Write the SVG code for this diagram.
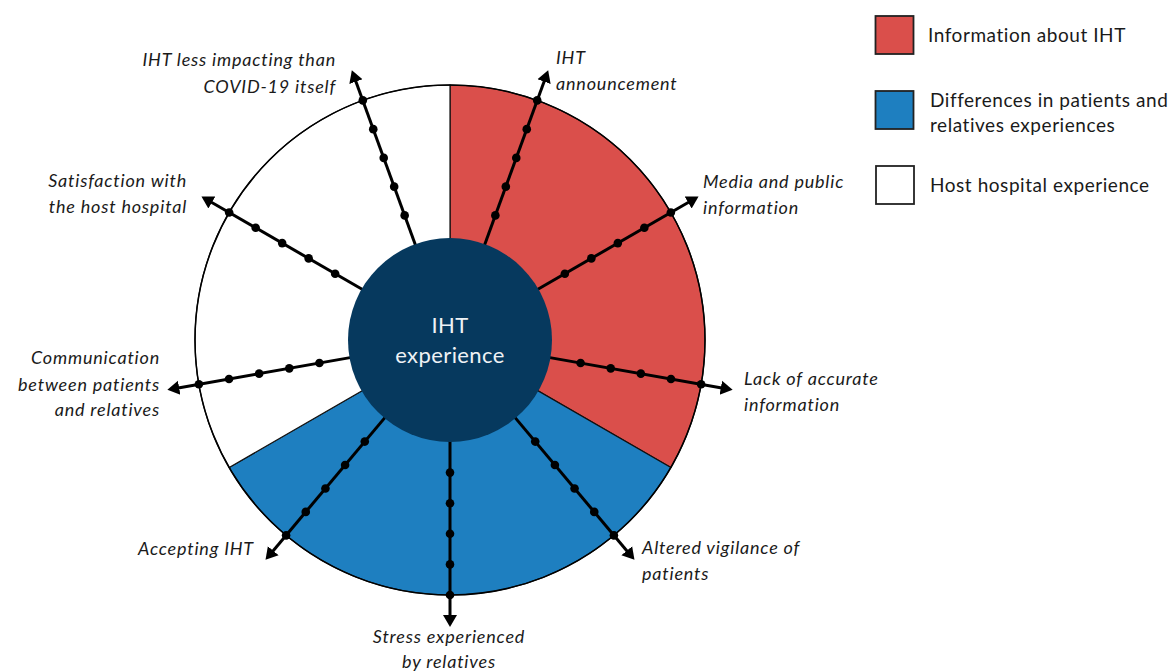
<svg xmlns="http://www.w3.org/2000/svg" width="1169" height="672" viewBox="0 0 1169 672">
<style>
.lbl{font-family:Lato,"Open Sans","Liberation Sans",sans-serif;font-style:italic;font-size:18px;letter-spacing:0.8px;fill:#1a1a1a}
.leg{font-family:Lato,"Open Sans","Liberation Sans",sans-serif;font-size:19px;letter-spacing:0.55px;fill:#1a1a1a}
.ctr{font-family:Lato,"Open Sans","Liberation Sans",sans-serif;font-size:22px;letter-spacing:0.4px;fill:#eef2f5}
.sec{stroke:#111;stroke-width:1.2}
.spoke{stroke:#000;stroke-width:3;fill:none;marker-end:url(#arrow)}
.dot{fill:#000}
.box{stroke:#222;stroke-width:1.8}
</style>
<defs>
<marker id="arrow" markerUnits="userSpaceOnUse" markerWidth="14" markerHeight="16" refX="1" refY="8" orient="auto" viewBox="0 0 14 16">
<path d="M0,1 L12,8 L0,15 z" fill="#000"/>
</marker>
</defs>
<rect width="1169" height="672" fill="#fff"/>
<g id="sectors">
<path class="sec" d="M450,340 L450,85 A255,255 0 0 1 670.84,467.5 Z" fill="#DA4F4B"/>
<path class="sec" d="M450,340 L670.84,467.5 A255,255 0 0 1 229.16,467.5 Z" fill="#1E7FC0"/>
<path class="sec" d="M450,340 L229.16,467.5 A255,255 0 0 1 450,85 Z" fill="#FFFFFF"/>
<circle cx="450" cy="340" r="255" fill="none" stroke="#000" stroke-width="1.5"/>
</g>
<g id="connectors">
<line class="spoke" x1="484.20" y1="246.03" x2="544.40" y2="80.65"/>
<line class="spoke" x1="536.60" y1="290" x2="689.02" y2="202"/>
<line class="spoke" x1="548.48" y1="357.37" x2="721.81" y2="387.93"/>
<line class="spoke" x1="514.28" y1="416.60" x2="627.41" y2="551.43"/>
<line class="spoke" x1="450" y1="440" x2="450" y2="616"/>
<line class="spoke" x1="385.72" y1="416.60" x2="272.59" y2="551.43"/>
<line class="spoke" x1="351.52" y1="357.37" x2="178.19" y2="387.93"/>
<line class="spoke" x1="363.40" y1="290" x2="210.98" y2="202"/>
<line class="spoke" x1="415.80" y1="246.03" x2="355.60" y2="80.65"/>
<g class="dot">
<circle cx="495.35" cy="215.40" r="4.3"/><circle cx="505.82" cy="186.64" r="4.3"/><circle cx="516.28" cy="157.89" r="4.3"/><circle cx="526.75" cy="129.13" r="4.3"/><circle cx="537.22" cy="100.38" r="4.3"/>
<circle cx="564.84" cy="273.70" r="4.3"/><circle cx="591.34" cy="258.40" r="4.3"/><circle cx="617.84" cy="243.10" r="4.3"/><circle cx="644.34" cy="227.80" r="4.3"/><circle cx="670.84" cy="212.50" r="4.3"/>
<circle cx="580.59" cy="363.03" r="4.3"/><circle cx="610.72" cy="368.34" r="4.3"/><circle cx="640.86" cy="373.65" r="4.3"/><circle cx="670.99" cy="378.97" r="4.3"/><circle cx="701.13" cy="384.28" r="4.3"/>
<circle cx="535.23" cy="441.58" r="4.3"/><circle cx="554.90" cy="465.02" r="4.3"/><circle cx="574.57" cy="488.46" r="4.3"/><circle cx="594.24" cy="511.90" r="4.3"/><circle cx="613.91" cy="535.34" r="4.3"/>
<circle cx="450" cy="472.6" r="4.3"/><circle cx="450" cy="503.2" r="4.3"/><circle cx="450" cy="533.8" r="4.3"/><circle cx="450" cy="564.4" r="4.3"/><circle cx="450" cy="595" r="4.3"/>
<circle cx="364.77" cy="441.58" r="4.3"/><circle cx="345.10" cy="465.02" r="4.3"/><circle cx="325.43" cy="488.46" r="4.3"/><circle cx="305.76" cy="511.90" r="4.3"/><circle cx="286.09" cy="535.34" r="4.3"/>
<circle cx="319.41" cy="363.03" r="4.3"/><circle cx="289.28" cy="368.34" r="4.3"/><circle cx="259.14" cy="373.65" r="4.3"/><circle cx="229.01" cy="378.97" r="4.3"/><circle cx="198.87" cy="384.28" r="4.3"/>
<circle cx="335.16" cy="273.70" r="4.3"/><circle cx="308.66" cy="258.40" r="4.3"/><circle cx="282.16" cy="243.10" r="4.3"/><circle cx="255.66" cy="227.80" r="4.3"/><circle cx="229.16" cy="212.50" r="4.3"/>
<circle cx="404.65" cy="215.40" r="4.3"/><circle cx="394.18" cy="186.64" r="4.3"/><circle cx="383.72" cy="157.89" r="4.3"/><circle cx="373.25" cy="129.13" r="4.3"/><circle cx="362.78" cy="100.38" r="4.3"/>
</g>
</g>
<g id="center">
<circle cx="450" cy="340" r="102" fill="#06395E"/>
<text class="ctr" x="450" y="333" text-anchor="middle">IHT</text>
<text class="ctr" x="450" y="363" text-anchor="middle">experience</text>
</g>
<g id="label-announcement"><text class="lbl" x="556" y="64">IHT</text><text class="lbl" x="556" y="90">announcement</text></g>
<g id="label-media"><text class="lbl" x="703" y="188">Media and public</text><text class="lbl" x="703" y="214">information</text></g>
<g id="label-lack"><text class="lbl" x="744" y="385">Lack of accurate</text><text class="lbl" x="744" y="411">information</text></g>
<g id="label-vigilance"><text class="lbl" x="642" y="554">Altered vigilance of</text><text class="lbl" x="642" y="580">patients</text></g>
<g id="label-stress"><text class="lbl" x="449" y="643" text-anchor="middle">Stress experienced</text><text class="lbl" x="449" y="668" text-anchor="middle">by relatives</text></g>
<g id="label-accepting"><text class="lbl" x="254" y="555" text-anchor="end">Accepting IHT</text></g>
<g id="label-communication"><text class="lbl" x="160" y="364" text-anchor="end">Communication</text><text class="lbl" x="160" y="391" text-anchor="end">between patients</text><text class="lbl" x="160" y="416" text-anchor="end">and relatives</text></g>
<g id="label-satisfaction"><text class="lbl" x="187" y="187" text-anchor="end">Satisfaction with</text><text class="lbl" x="187" y="213" text-anchor="end">the host hospital</text></g>
<g id="label-less-impacting"><text class="lbl" x="336" y="66" text-anchor="end">IHT less impacting than</text><text class="lbl" x="336" y="93" text-anchor="end">COVID-19 itself</text></g>
<g id="legend">
<g id="legend-info"><rect class="box" x="875.5" y="16" width="38" height="38" fill="#DA4F4B"/><text class="leg" x="928" y="42">Information about IHT</text></g>
<g id="legend-diff"><rect class="box" x="875.5" y="91" width="38" height="38" fill="#1E7FC0"/><text class="leg" x="930" y="107">Differences in patients and</text><text class="leg" x="930" y="132">relatives experiences</text></g>
<g id="legend-host"><rect class="box" x="876" y="166" width="38" height="38" fill="#FFFFFF"/><text class="leg" x="930" y="192">Host hospital experience</text></g>
</g>
</svg>
